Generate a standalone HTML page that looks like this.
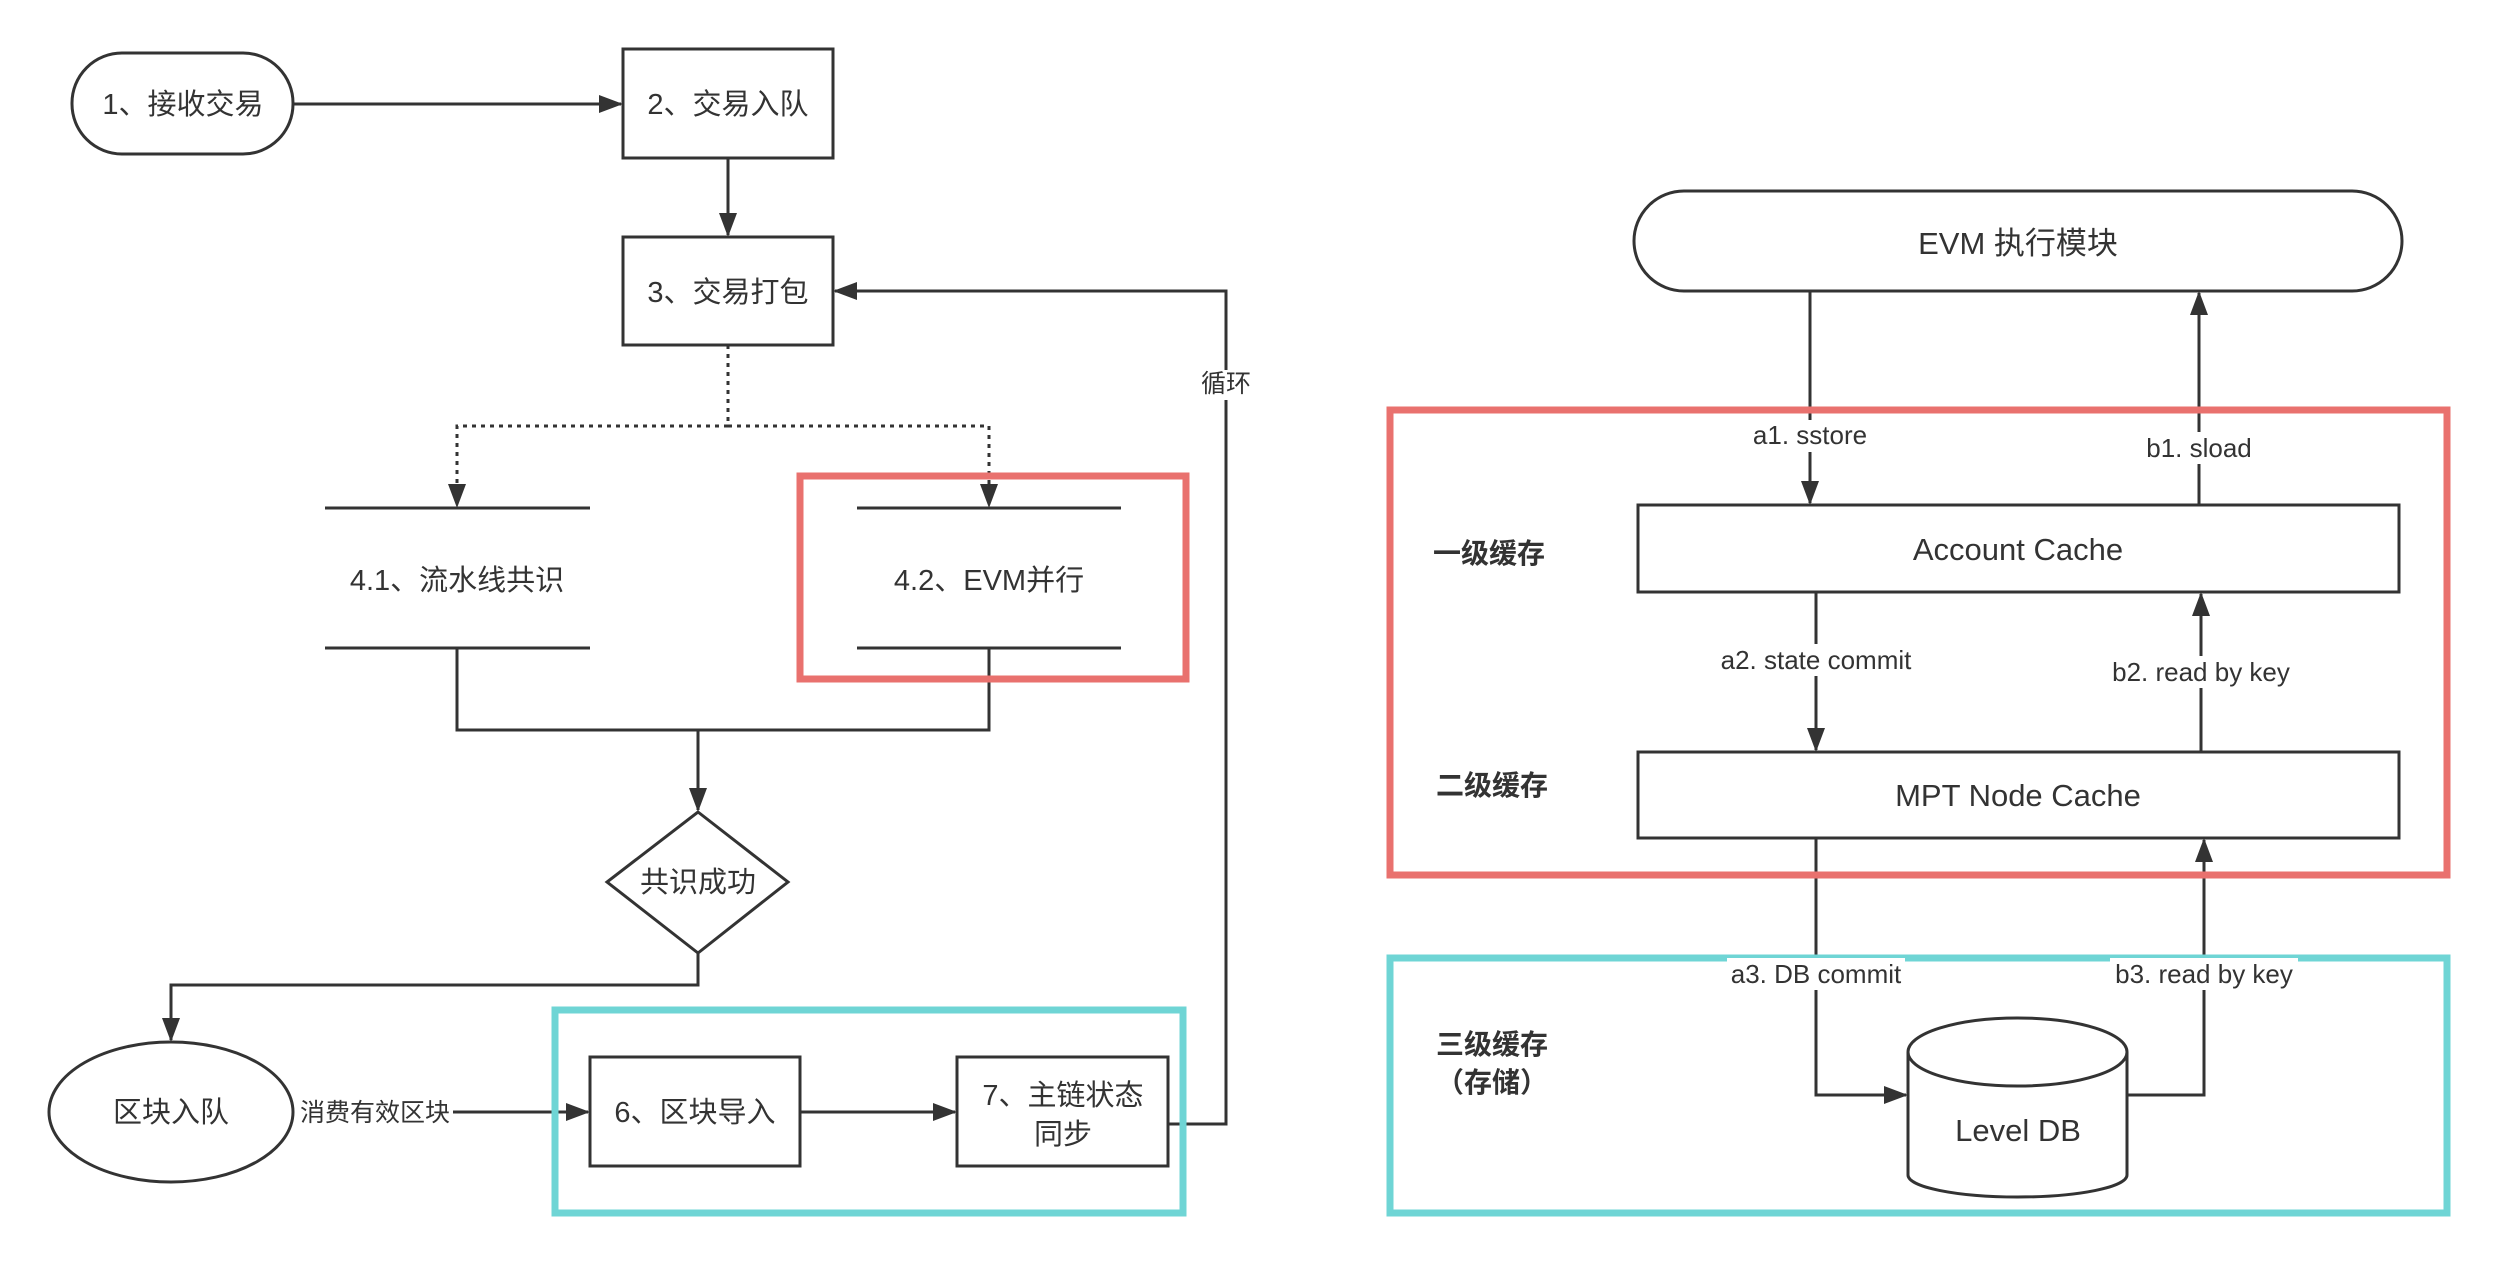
<!DOCTYPE html>
<html><head><meta charset="utf-8"><style>
html,body{margin:0;padding:0;background:#fff;}
svg{display:block;}
text{font-family:"Liberation Sans","Noto Sans CJK SC",sans-serif;fill:#333;}
</style></head><body>
<svg width="2498" height="1264" viewBox="0 0 2498 1264" xmlns="http://www.w3.org/2000/svg">
<defs>
<marker id="ar" markerWidth="10" markerHeight="10" refX="9" refY="5" orient="auto" markerUnits="userSpaceOnUse" viewBox="0 0 10 10">
<path d="M0,0 L10,5 L0,10 z" fill="#333"/></marker>
<marker id="a2" markerWidth="24" markerHeight="24" refX="22" refY="12" orient="auto" markerUnits="userSpaceOnUse" viewBox="0 0 24 24">
<path d="M0,3 L24,12 L0,21 z" fill="#333"/></marker>
</defs>
<g stroke="#333" stroke-width="3" fill="none">
<!-- left flow -->
<rect x="72" y="53" width="221" height="101" rx="50" ry="50" fill="#fff"/>
<rect x="623" y="49" width="210" height="109" fill="#fff"/>
<rect x="623" y="237" width="210" height="108" fill="#fff"/>
<line x1="293" y1="104" x2="621" y2="104" marker-end="url(#a2)"/>
<line x1="728" y1="158" x2="728" y2="235" marker-end="url(#a2)"/>
<polyline points="1168,1124 1226,1124 1226,291 835,291" marker-end="url(#a2)"/>
<polyline points="728,345 728,426 457,426 457,506" stroke-dasharray="4,5" marker-end="url(#a2)"/>
<polyline points="728,426 989,426 989,506" stroke-dasharray="4,5" marker-end="url(#a2)"/>
<line x1="325" y1="508" x2="590" y2="508"/>
<line x1="325" y1="648" x2="590" y2="648"/>
<line x1="857" y1="508" x2="1121" y2="508"/>
<line x1="857" y1="648" x2="1121" y2="648"/>
<polyline points="457,648 457,730 989,730 989,648"/>
<line x1="698" y1="730" x2="698" y2="810" marker-end="url(#a2)"/>
<polygon points="698,812 788,882 698,953 607,882" fill="#fff"/>
<polyline points="698,953 698,985 171,985 171,1040" marker-end="url(#a2)"/>
<ellipse cx="171" cy="1112" rx="122" ry="70" fill="#fff"/>
<line x1="453" y1="1112" x2="588" y2="1112" marker-end="url(#a2)"/>
<rect x="590" y="1057" width="210" height="109" fill="#fff"/>
<rect x="957" y="1057" width="211" height="109" fill="#fff"/>
<line x1="800" y1="1112" x2="955" y2="1112" marker-end="url(#a2)"/>
</g>
<rect x="800" y="476" width="386" height="203" fill="none" stroke="#e9716e" stroke-width="7"/>
<rect x="555" y="1010" width="628" height="203" fill="none" stroke="#6fd5d5" stroke-width="7"/>
<rect x="1200" y="370" width="52" height="30" fill="#fff"/>
<g font-size="29" text-anchor="middle">
<text x="183" y="114">1、接收交易</text>
<text x="728" y="114">2、交易入队</text>
<text x="728" y="302">3、交易打包</text>
<text x="457" y="590">4.1、流水线共识</text>
<text x="989" y="590">4.2、EVM并行</text>
<text x="698" y="892">共识成功</text>
<text x="171" y="1122">区块入队</text>
<text x="695" y="1122">6、区块导入</text>
<text x="1063" y="1105">7、主链状态</text>
<text x="1063" y="1144">同步</text>
<text x="1226" y="392" font-size="25">循环</text>
<text x="375" y="1121" font-size="25">消费有效区块</text>
</g>
<!-- right diagram -->
<g stroke="#333" stroke-width="3" fill="none">
<rect x="1634" y="191" width="768" height="100" rx="50" ry="50" fill="#fff"/>
<rect x="1638" y="505" width="761" height="87" fill="#fff"/>
<rect x="1638" y="752" width="761" height="86" fill="#fff"/>
<line x1="1810" y1="291" x2="1810" y2="503" marker-end="url(#a2)"/>
<line x1="2199" y1="505" x2="2199" y2="293" marker-end="url(#a2)"/>
<line x1="1816" y1="592" x2="1816" y2="750" marker-end="url(#a2)"/>
<line x1="2201" y1="752" x2="2201" y2="594" marker-end="url(#a2)"/>
<polyline points="1816,838 1816,1095 1906,1095" marker-end="url(#a2)"/>
<polyline points="2127,1095 2204,1095 2204,840" marker-end="url(#a2)"/>
<path d="M1908,1052 L1908,1175 A109.5,22 0 0 0 2127,1175 L2127,1052" fill="#fff"/>
<ellipse cx="2017.5" cy="1052" rx="109.5" ry="34" fill="#fff"/>
</g>
<rect x="1390" y="410" width="1057" height="465" fill="none" stroke="#e9716e" stroke-width="7"/>
<rect x="1390" y="958" width="1057" height="255" fill="none" stroke="#6fd5d5" stroke-width="7"/>
<g font-size="26" text-anchor="middle">
<rect x="1745" y="420" width="130" height="32" fill="#fff"/>
<text x="1810" y="444">a1. sstore</text>
<rect x="2140" y="432" width="118" height="32" fill="#fff"/>
<text x="2199" y="457">b1. sload</text>
<rect x="1710" y="644" width="212" height="32" fill="#fff"/>
<text x="1816" y="669">a2. state commit</text>
<rect x="2108" y="656" width="186" height="32" fill="#fff"/>
<text x="2201" y="681">b2. read by key</text>
<rect x="1727" y="958" width="178" height="32" fill="#fff"/>
<text x="1816" y="983">a3. DB commit</text>
<rect x="2110" y="958" width="188" height="32" fill="#fff"/>
<text x="2204" y="983">b3. read by key</text>
</g>
<g font-size="31" text-anchor="middle">
<text x="2018" y="254">EVM 执行模块</text>
<text x="2018" y="560">Account Cache</text>
<text x="2018" y="806">MPT Node Cache</text>
<text x="2018" y="1141">Level DB</text>
</g>
<g font-size="28" font-weight="bold" text-anchor="middle">
<text x="1489" y="563">一级缓存</text>
<text x="1492" y="795">二级缓存</text>
<text x="1492" y="1054">三级缓存</text>
<text x="1492" y="1092">（存储）</text>
</g>
</svg>
</body></html>
